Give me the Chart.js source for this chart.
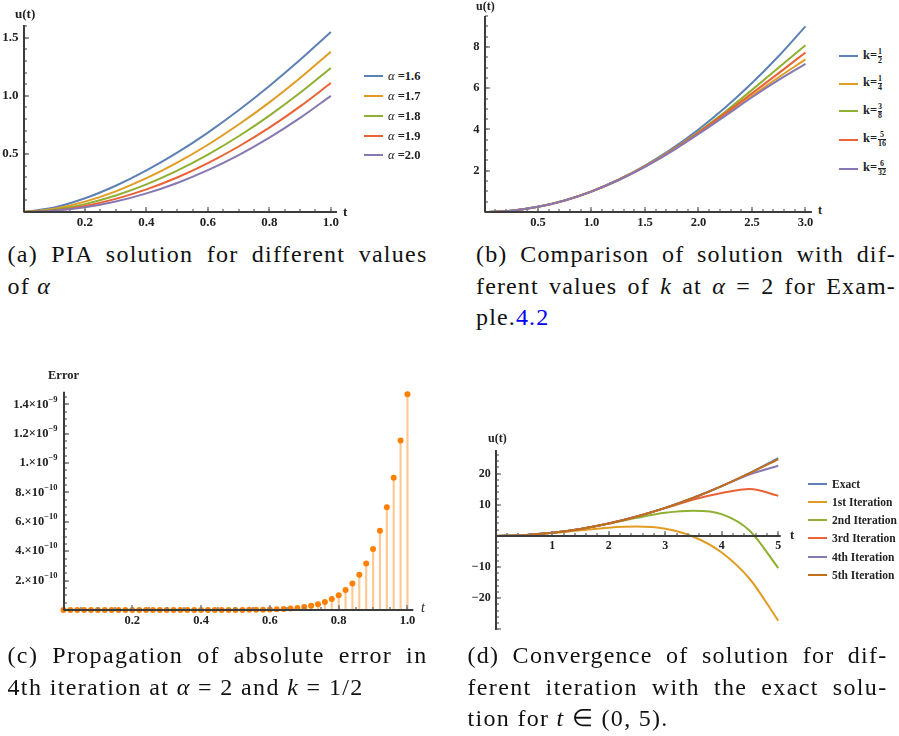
<!DOCTYPE html>
<html><head><meta charset="utf-8">
<script src="https://cdn.jsdelivr.net/npm/chart.js@4.4.1/dist/chart.umd.min.js"></script>
<style>
html,body{margin:0;padding:0;background:#fff;}
body{width:899px;height:736px;position:relative;overflow:hidden;font-family:'Liberation Serif',serif;}
.box{position:absolute;}
.lbl{position:absolute;font-family:'Liberation Serif',serif;font-weight:bold;color:#222;white-space:nowrap;line-height:1;}
.cap{position:absolute;font-family:'Liberation Serif',serif;font-size:24px;line-height:31.5px;color:#111;}
.cap div{text-align:justify;text-align-last:justify;white-space:nowrap;}
.cap div.last{text-align:left;text-align-last:left;}
.cap div.measure{text-align:left;text-align-last:left;}
.leg{position:absolute;display:flex;align-items:center;height:16px;font-family:'Liberation Serif',serif;font-weight:bold;color:#222;white-space:nowrap;}
.sw{display:inline-block;width:19px;height:2px;margin-right:5px;}
.frac{display:inline-flex;flex-direction:column;align-items:center;font-size:8px;line-height:8px;margin-left:1px;vertical-align:middle;}
.frac span+span{border-top:1px solid #222;}
</style></head><body>
<script>
// ---------- DATA ----------
// (a) PIA solution for different alpha
const tA = [0,0.1,0.2,0.3,0.4,0.5,0.6,0.7,0.8,0.9,1.0];
const uA16 = [0,0.039,0.118,0.226,0.358,0.511,0.684,0.876,1.085,1.310,1.55];
const uA17 = [0,0.028,0.089,0.178,0.291,0.425,0.579,0.753,0.944,1.154,1.38];
const uA18 = [0,0.020,0.068,0.142,0.238,0.356,0.494,0.652,0.830,1.026,1.24];
const uA19 = [0,0.014,0.052,0.113,0.195,0.297,0.421,0.564,0.726,0.909,1.11];
const uA20 = [0,0.010,0.040,0.090,0.160,0.250,0.360,0.490,0.640,0.810,1.00];
const alphaLabels = ['1.6','1.7','1.8','1.9','2.0'];
const aXTicks = [0.2,0.4,0.6,0.8,1.0];
const aXTickLabels = ['0.2','0.4','0.6','0.8','1.0'];
const aYTicks = [0.5,1.0,1.5];
const aYTickLabels = ['0.5','1.0','1.5'];

// (b) different k at alpha = 2
const tB = [0,0.25,0.5,0.75,1.0,1.25,1.5,1.75,2.0,2.25,2.5,2.75,3.0];
const uBk12  = [0,0.0625,0.25,0.5625,1.0,1.5625,2.25,3.0625,4.0,5.0625,6.25,7.5625,9.0];
const uBk14  = [0,0.062,0.25,0.56,0.99,1.54,2.20,2.96,3.81,4.71,5.63,6.53,7.40];
const uBk38  = [0,0.062,0.25,0.56,0.997,1.55,2.22,3.00,3.89,4.86,5.92,7.00,8.08];
const uBk516 = [0,0.062,0.25,0.56,0.995,1.55,2.21,2.98,3.85,4.78,5.75,6.73,7.73];
const uBk632 = [0,0.062,0.25,0.56,0.99,1.54,2.19,2.94,3.78,4.66,5.56,6.40,7.18];
const kNum = ['1','1','3','5','6'];
const kDen = ['2','4','8','16','32'];
const bXTicks = [0.5,1.0,1.5,2.0,2.5,3.0];
const bXTickLabels = ['0.5','1.0','1.5','2.0','2.5','3.0'];
const bYTicks = [2,4,6,8];
const bYTickLabels = ['2','4','6','8'];

// (c) absolute error, 4th iteration
const tC = [0,0.02,0.04,0.06,0.08,0.10,0.12,0.14,0.16,0.18,0.20,0.22,0.24,0.26,0.28,0.30,0.32,0.34,0.36,0.38,0.40,0.42,0.44,0.46,0.48,0.50,0.52,0.54,0.56,0.58,0.60,0.62,0.64,0.66,0.68,0.70,0.72,0.74,0.76,0.78,0.80,0.82,0.84,0.86,0.88,0.90,0.92,0.94,0.96,0.98,1.00];
const errC = [0,0,0,0,0,0,0,0,0,0,0,0,0,0,0,0,0,0,1e-14,1e-14,2e-14,4e-14,8e-14,1.3e-13,2.2e-13,3.6e-13,5.7e-13,9.0e-13,1.4e-12,2.1e-12,3.2e-12,4.7e-12,6.9e-12,1.0e-11,1.44e-11,2.03e-11,2.85e-11,3.96e-11,5.46e-11,7.45e-11,1.01e-10,1.36e-10,1.81e-10,2.40e-10,3.17e-10,4.15e-10,5.40e-10,6.99e-10,9.00e-10,1.153e-9,1.469e-9];
const cXTicks = [0.2,0.4,0.6,0.8,1.0];
const cXTickLabels = ['0.2','0.4','0.6','0.8','1.0'];
const cYTicks = [2e-10,4e-10,6e-10,8e-10,1e-9,1.2e-9,1.4e-9];
const cYMantissa = ['2.','4.','6.','8.','1.','1.2','1.4'];
const cYExponent = ['\u221210','\u221210','\u221210','\u221210','\u22129','\u22129','\u22129'];

// (d) convergence of iterations, t in (0,5)
const tD = [0,0.5,1.0,1.5,2.0,2.5,3.0,3.5,4.0,4.5,5.0];
const uDexact = [0,0.25,1,2.25,4,6.25,9,12.25,16,20.25,25];
const uDit1 = [0,0.245,0.92,1.83,2.67,3.0,2.3,-0.25,-5.3,-13.9,-27.2];
const uDit2 = [0,0.25,1.0,2.24,3.97,5.85,7.45,8.09,7.0,1.6,-10.3];
const uDit3 = [0,0.25,1,2.25,4,6.24,8.94,11.7,13.8,15.1,12.9];
const uDit4 = [0,0.25,1,2.25,4,6.25,9,12.24,16.0,19.8,22.55];
const uDit5 = [0,0.25,1,2.25,4,6.25,9,12.25,16,20.2,24.6];
const iterLabels = ['Exact','1st Iteration','2nd Iteration','3rd Iteration','4th Iteration','5th Iteration'];
const dXTicks = [1,2,3,4,5];
const dXTickLabels = ['1','2','3','4','5'];
const dYTicks = [-20,-10,10,20];
const dYTickLabels = ['\u221220','\u221210','10','20'];

const palette = ['#5E81B5','#E19C24','#8FB032','#EB6235','#8778B3','#C56E1A'];
const SERIF = "'Liberation Serif', serif";

// ---------- HELPERS ----------
// Mathematica-style axes: axis lines through the origin with inward tick marks
function mmaAxesPlugin(cfg) {
  return {
    id: 'mmaAxes',
    afterDatasetsDraw(chart) {
      const xs = chart.scales.x, ys = chart.scales.y, ctx = chart.ctx, a = chart.chartArea;
      const yz = (ys.min <= 0 && ys.max >= 0) ? ys.getPixelForValue(0) : a.bottom;
      const y0 = Math.round(yz);
      const x0 = Math.round(a.left);
      ctx.save();
      ctx.strokeStyle = '#7f7f7f';
      ctx.lineWidth = 1.5;
      const draw = (scale, step, len, horiz) => {
        const k0 = Math.ceil(scale.min / step - 1e-6);
        for (let k = k0; k * step <= scale.max * (1 + 1e-9) + 1e-15 && k < k0 + 400; k++) {
          if (k === 0) continue;
          const p = Math.round(scale.getPixelForValue(k * step));
          ctx.beginPath();
          if (horiz) { ctx.moveTo(p, y0); ctx.lineTo(p, y0 - len); }
          else { ctx.moveTo(x0, p); ctx.lineTo(x0 + len, p); }
          ctx.stroke();
        }
      };
      draw(xs, cfg.xMinor, 3, true);
      draw(xs, cfg.xMajor, 5, true);
      draw(ys, cfg.yMinor, 3, false);
      draw(ys, cfg.yMajor, 5, false);
      ctx.strokeStyle = '#3c3c3c';
      ctx.lineWidth = 2;
      ctx.beginPath();
      ctx.moveTo(a.left, y0); ctx.lineTo(a.right, y0);
      ctx.stroke();
      ctx.beginPath();
      ctx.moveTo(x0, a.top); ctx.lineTo(x0, a.bottom);
      ctx.stroke();
      ctx.restore();
    }
  };
}

// y tick labels with superscript exponent (panel c), drawn at scale tick positions
function sciLabelsPlugin(values, mant, exp) {
  return {
    id: 'sciLabels',
    afterDraw(chart) {
      const ys = chart.scales.y, ctx = chart.ctx;
      const right = chart.chartArea.left - 6;
      ctx.save();
      ctx.fillStyle = '#222';
      ctx.textBaseline = 'middle';
      ctx.textAlign = 'left';
      values.forEach((v, i) => {
        const y = ys.getPixelForValue(v);
        ctx.font = `bold 8.5px ${SERIF}`;
        const ew = ctx.measureText(exp[i]).width;
        ctx.font = `bold 12.5px ${SERIF}`;
        const base = mant[i] + '\u00d710';
        const bw = ctx.measureText(base).width;
        ctx.fillText(base, right - ew - bw, y);
        ctx.font = `bold 8.5px ${SERIF}`;
        ctx.fillText(exp[i], right - ew, y - 5);
      });
      ctx.restore();
    }
  };
}

function makeCanvas(L, T, W, H) {
  const d = document.createElement('div');
  d.className = 'box';
  d.style.cssText = `left:${L}px;top:${T}px;width:${W}px;height:${H}px;`;
  const c = document.createElement('canvas');
  c.width = W; c.height = H;
  d.appendChild(c);
  document.body.appendChild(d);
  return c;
}

function zeroPad(s) { s.paddingLeft = 0; s.paddingRight = 0; s.paddingTop = 0; s.paddingBottom = 0; }
function axisX(min, max, vals, labels, fontSize, centered, height) {
  return {
    type: 'linear', min, max, offset: false,
    position: centered ? { y: 0 } : 'bottom',
    grid: { display: false, drawTicks: false },
    border: { display: false },
    ticks: {
      font: { family: SERIF, weight: 'bold', size: fontSize },
      color: '#222', padding: 3, autoSkip: false, maxRotation: 0, minRotation: 0, includeBounds: false,
      callback: (v, i) => labels[i]
    },
    afterBuildTicks: s => { s.ticks = vals.map(v => ({ value: v })); },
    afterFit: s => { s.height = height; zeroPad(s); }
  };
}
function axisY(min, max, vals, labels, fontSize, width) {
  return {
    type: 'linear', min, max, position: 'left', offset: false,
    grid: { display: false, drawTicks: false },
    border: { display: false },
    ticks: {
      font: { family: SERIF, weight: 'bold', size: fontSize },
      color: '#222', padding: 5, autoSkip: false, includeBounds: false,
      callback: (v, i) => labels ? labels[i] : ''
    },
    afterBuildTicks: s => { s.ticks = vals.map(v => ({ value: v })); },
    afterFit: s => { s.width = width; zeroPad(s); }
  };
}
function pts(xs, ys) { return xs.map((x, i) => ({ x, y: ys[i] })); }
function lineDs(label, xs, ys, color, order) {
  return { type: 'line', label, data: pts(xs, ys), borderColor: color, backgroundColor: color,
    borderWidth: 2, pointRadius: 0, cubicInterpolationMode: 'monotone', fill: false, order };
}
function baseOpts(pad, scales) {
  return {
    responsive: false, animation: false, devicePixelRatio: 1, events: [],
    layout: { padding: pad },
    plugins: { legend: { display: false }, tooltip: { enabled: false } },
    scales
  };
}
function addLabel(html, x, y, size, extra) {
  const d = document.createElement('div');
  d.className = 'lbl';
  d.style.cssText = `left:${x}px;top:${y}px;font-size:${size}px;` + (extra || '');
  d.innerHTML = html;
  document.body.appendChild(d);
}
function addLegendItem(x, yc, color, html, size) {
  const d = document.createElement('div');
  d.className = 'leg';
  d.style.cssText = `left:${x}px;top:${yc - 8}px;font-size:${size}px;`;
  d.innerHTML = `<span class="sw" style="background:${color}"></span><span>${html}</span>`;
  document.body.appendChild(d);
}
function addCaption(x, y, w, lines) {
  const d = document.createElement('div');
  d.className = 'cap';
  d.style.cssText = `left:${x}px;top:${y}px;width:${w}px;`;
  d.innerHTML = lines.map((l, i) => `<div class="${i === lines.length - 1 ? 'last' : ''}"><span>${l}</span></div>`).join('');
  document.body.appendChild(d);
  // widen letter spacing a little so the Times-like font fills the line like the wider original font
  const rows = Array.from(d.children);
  let sum = 0, cnt = 0;
  rows.forEach(r => {
    if (r.classList.contains('last')) return;
    r.classList.add('measure');
    const sp = r.firstChild;
    const n = sp.textContent.length;
    const natural = sp.getBoundingClientRect().width;
    r.classList.remove('measure');
    const ls = Math.max(0, Math.min(1.5, 0.6 * (w - natural) / n));
    r.style.letterSpacing = ls + 'px';
    sum += ls; cnt++;
  });
  const avg = cnt ? sum / cnt : 0.6;
  rows.forEach(r => { if (r.classList.contains('last')) r.style.letterSpacing = avg + 'px'; });
}

// ---------- PANEL (a) ----------
(function () {
  const L = 0, T = 0, W = 350, H = 235;
  const cl = 23.5, ct = 25, cr = 337, cb = 212;
  const c = makeCanvas(L, T, W, H);
  const series = [uA16, uA17, uA18, uA19, uA20];
  new Chart(c, {
    type: 'line',
    data: { datasets: series.map((s, i) => lineDs('α =' + alphaLabels[i], tA, s, palette[i], series.length - i)) },
    options: baseOpts({ left: 0, top: ct - T, right: L + W - cr, bottom: 0 },
      { x: axisX(0, 1.02, aXTicks, aXTickLabels, 13, false, T + H - cb),
        y: axisY(0, 1.61, aYTicks, aYTickLabels, 13, cl - L) }),
    plugins: [mmaAxesPlugin({ xMajor: 0.2, xMinor: 0.05, yMajor: 0.5, yMinor: 0.1 })]
  });
  addLabel('u(t)', 15, 7, 13);
  addLabel('t', 343, 205, 13);
  const ys = [76, 96, 116, 136, 155];
  alphaLabels.forEach((a, i) => addLegendItem(364, ys[i], palette[i], `<i style="font-weight:normal">α</i> =${a}`, 12.5));
})();

// ---------- PANEL (b) ----------
(function () {
  const L = 450, T = 0, W = 365, H = 235;
  const cl = 484.5, ct = 16, cr = 811.9, cb = 212;
  const c = makeCanvas(L, T, W, H);
  const series = [uBk12, uBk14, uBk38, uBk516, uBk632];
  new Chart(c, {
    type: 'line',
    data: { datasets: series.map((s, i) => lineDs('k=' + kNum[i] + '/' + kDen[i], tB, s, palette[i], series.length - i)) },
    options: baseOpts({ left: 0, top: ct - T, right: L + W - cr, bottom: 0 },
      { x: axisX(0, 3.06, bXTicks, bXTickLabels, 12.5, false, T + H - cb),
        y: axisY(0, 9.5, bYTicks, bYTickLabels, 12.5, cl - L) }),
    plugins: [mmaAxesPlugin({ xMajor: 0.5, xMinor: 0.1, yMajor: 2, yMinor: 0.5 })]
  });
  addLabel('u(t)', 476, 0, 12);
  addLabel('t', 818, 204, 12);
  const ys = [56, 83.5, 111, 139.5, 168.5];
  kNum.forEach((n, i) => addLegendItem(839, ys[i], palette[i],
    `k=<span class="frac"><span>${n}</span><span>${kDen[i]}</span></span>`, 12.5));
})();

// ---------- PANEL (c) ----------
(function () {
  const L = 0, T = 370, W = 432, H = 265;
  const cl = 63.5, ct = 391.7, cr = 413.3, cb = 610;
  const c = makeCanvas(L, T, W, H);
  const data = pts(tC, errC);
  new Chart(c, {
    type: 'scatter',
    data: { datasets: [
      { type: 'bar', label: 'stems', data, backgroundColor: '#FFC994', borderWidth: 0, barThickness: 1.5, order: 2 },
      { type: 'scatter', label: 'Error', data, backgroundColor: '#FF8000', borderWidth: 0, pointRadius: 3, clip: false, order: 1 }
    ] },
    options: baseOpts({ left: 0, top: ct - T, right: L + W - cr, bottom: 0 },
      { x: axisX(0, 1.017, cXTicks, cXTickLabels, 12.5, false, T + H - cb),
        y: axisY(0, 1.486e-9, cYTicks, null, 12.5, cl - L) }),
    plugins: [mmaAxesPlugin({ xMajor: 0.2, xMinor: 0.05, yMajor: 2e-10, yMinor: 5e-11 }),
              sciLabelsPlugin(cYTicks, cYMantissa, cYExponent)]
  });
  addLabel('Error', 48, 369, 12.5);
  addLabel('t', 421, 601, 14, 'font-style:italic;font-weight:normal;');
})();

// ---------- PANEL (d) ----------
(function () {
  const L = 450, T = 425, W = 355, H = 222;
  const cl = 495.7, ct = 450, cr = 780.7, cb = 630;
  const c = makeCanvas(L, T, W, H);
  const series = [uDexact, uDit1, uDit2, uDit3, uDit4, uDit5];
  new Chart(c, {
    type: 'line',
    data: { datasets: series.map((s, i) => lineDs(iterLabels[i], tD, s, palette[i], series.length - i)) },
    options: baseOpts({ left: 0, top: ct - T, right: L + W - cr, bottom: T + H - cb },
      { x: axisX(0, 5.044, dXTicks, dXTickLabels, 12, true, 0),
        y: axisY(-30.2, 27.6, dYTicks, dYTickLabels, 12, cl - L) }),
    plugins: [mmaAxesPlugin({ xMajor: 1, xMinor: 0.2, yMajor: 10, yMinor: 2 })]
  });
  addLabel('u(t)', 488, 432, 12);
  addLabel('t', 790, 529, 12.5);
  const ys = [483.5, 501.7, 520, 538.3, 556.7, 575];
  iterLabels.forEach((s, i) => addLegendItem(808, ys[i], palette[i], s, 11.5));
})();

// ---------- CAPTIONS ----------
addCaption(7.5, 239, 420, ['(a) PIA solution for different values', 'of <i>α</i>']);
addCaption(476, 239, 420, ['(b) Comparison of solution with dif-',
  'ferent values of <i>k</i> at <i>α</i> = 2 for Exam-',
  'ple.<span style="color:#0000ee">4.2</span>']);
addCaption(7.5, 640, 420, ['(c) Propagation of absolute error in',
  '4th iteration at <i>α</i> = 2 and <i>k</i> = 1/2']);
addCaption(467.5, 640, 420, ['(d) Convergence of solution for dif-',
  'ferent iteration with the exact solu-',
  'tion for <i>t</i> ∈ (0, 5).']);
</script>
</body></html>
